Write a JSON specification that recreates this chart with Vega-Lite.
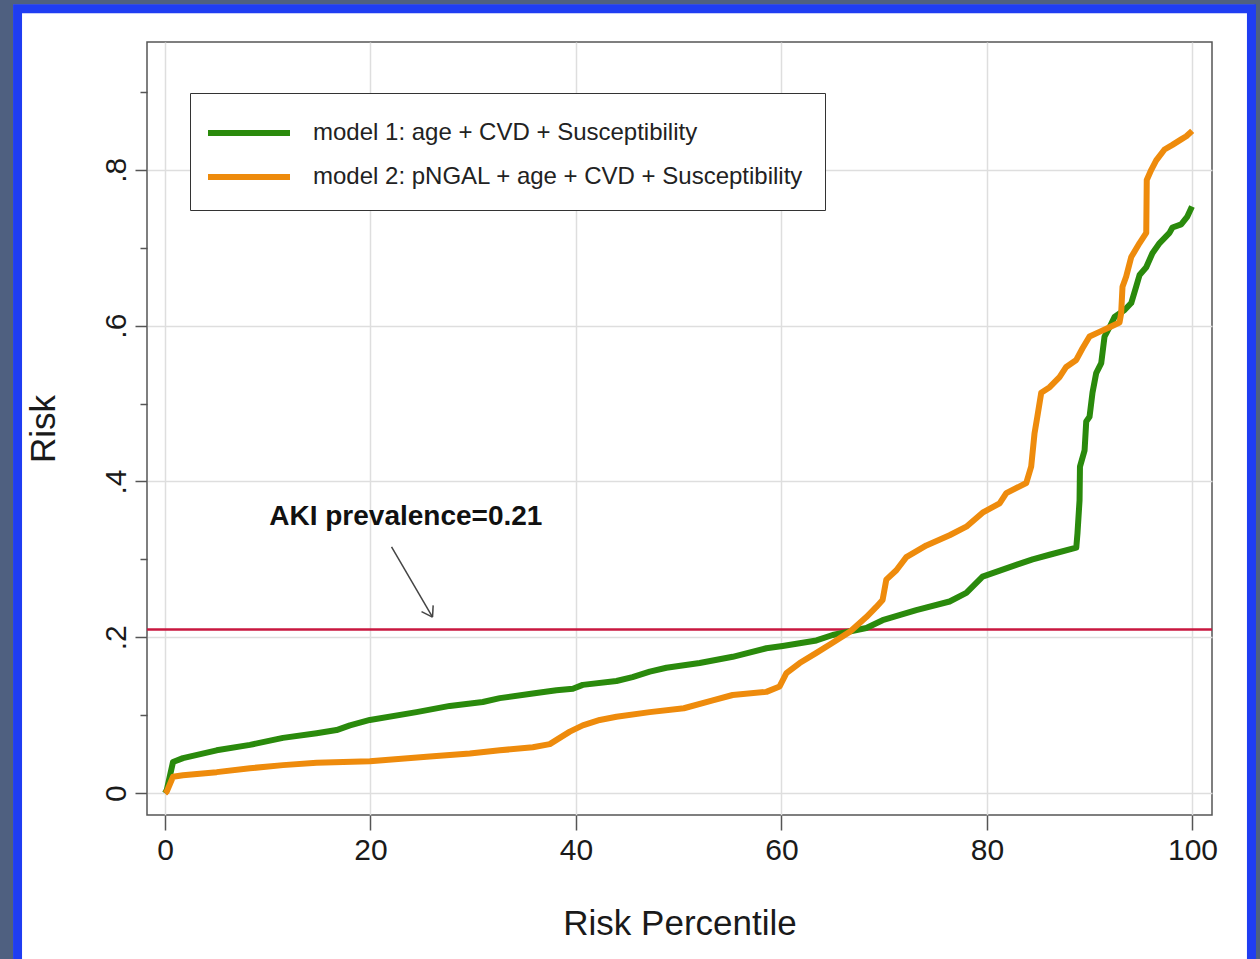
{
  "$schema": "https://vega.github.io/schema/vega-lite/v6.json",
  "width": 1065,
  "height": 773,
  "autosize": {"type": "none"},
  "padding": {"left": 147, "top": 42, "right": 48, "bottom": 144},
  "background": "white",
  "config": {
    "view": {"stroke": "#555555", "strokeWidth": 1.5},
    "font": "Liberation Sans"
  },
  "datasets": {
    "one": [{"note": "frame"}],
    "curves": [
      {"pct": 0, "risk": 0, "model": "model 1: age + CVD + Susceptibility"},
      {"pct": 0.17, "risk": 0.004, "model": "model 1: age + CVD + Susceptibility"},
      {"pct": 0.78, "risk": 0.040, "model": "model 1: age + CVD + Susceptibility"},
      {"pct": 1.75, "risk": 0.045, "model": "model 1: age + CVD + Susceptibility"},
      {"pct": 5.03, "risk": 0.055, "model": "model 1: age + CVD + Susceptibility"},
      {"pct": 8.27, "risk": 0.062, "model": "model 1: age + CVD + Susceptibility"},
      {"pct": 11.48, "risk": 0.071, "model": "model 1: age + CVD + Susceptibility"},
      {"pct": 14.76, "risk": 0.077, "model": "model 1: age + CVD + Susceptibility"},
      {"pct": 16.7, "risk": 0.081, "model": "model 1: age + CVD + Susceptibility"},
      {"pct": 18.0, "risk": 0.087, "model": "model 1: age + CVD + Susceptibility"},
      {"pct": 19.94, "risk": 0.094, "model": "model 1: age + CVD + Susceptibility"},
      {"pct": 24.48, "risk": 0.104, "model": "model 1: age + CVD + Susceptibility"},
      {"pct": 27.72, "risk": 0.112, "model": "model 1: age + CVD + Susceptibility"},
      {"pct": 30.93, "risk": 0.117, "model": "model 1: age + CVD + Susceptibility"},
      {"pct": 32.59, "risk": 0.122, "model": "model 1: age + CVD + Susceptibility"},
      {"pct": 35.8, "risk": 0.128, "model": "model 1: age + CVD + Susceptibility"},
      {"pct": 38.1, "risk": 0.132, "model": "model 1: age + CVD + Susceptibility"},
      {"pct": 39.7, "risk": 0.134, "model": "model 1: age + CVD + Susceptibility"},
      {"pct": 40.66, "risk": 0.139, "model": "model 1: age + CVD + Susceptibility"},
      {"pct": 43.94, "risk": 0.144, "model": "model 1: age + CVD + Susceptibility"},
      {"pct": 45.5, "risk": 0.149, "model": "model 1: age + CVD + Susceptibility"},
      {"pct": 47.18, "risk": 0.156, "model": "model 1: age + CVD + Susceptibility"},
      {"pct": 48.8, "risk": 0.161, "model": "model 1: age + CVD + Susceptibility"},
      {"pct": 52.04, "risk": 0.167, "model": "model 1: age + CVD + Susceptibility"},
      {"pct": 55.25, "risk": 0.175, "model": "model 1: age + CVD + Susceptibility"},
      {"pct": 58.53, "risk": 0.186, "model": "model 1: age + CVD + Susceptibility"},
      {"pct": 60.12, "risk": 0.189, "model": "model 1: age + CVD + Susceptibility"},
      {"pct": 63.4, "risk": 0.196, "model": "model 1: age + CVD + Susceptibility"},
      {"pct": 64.98, "risk": 0.203, "model": "model 1: age + CVD + Susceptibility"},
      {"pct": 68.26, "risk": 0.212, "model": "model 1: age + CVD + Susceptibility"},
      {"pct": 69.84, "risk": 0.222, "model": "model 1: age + CVD + Susceptibility"},
      {"pct": 73.12, "risk": 0.235, "model": "model 1: age + CVD + Susceptibility"},
      {"pct": 76.36, "risk": 0.246, "model": "model 1: age + CVD + Susceptibility"},
      {"pct": 77.99, "risk": 0.257, "model": "model 1: age + CVD + Susceptibility"},
      {"pct": 79.57, "risk": 0.278, "model": "model 1: age + CVD + Susceptibility"},
      {"pct": 82.85, "risk": 0.293, "model": "model 1: age + CVD + Susceptibility"},
      {"pct": 84.44, "risk": 0.300, "model": "model 1: age + CVD + Susceptibility"},
      {"pct": 86.09, "risk": 0.306, "model": "model 1: age + CVD + Susceptibility"},
      {"pct": 88.69, "risk": 0.315, "model": "model 1: age + CVD + Susceptibility"},
      {"pct": 88.81, "risk": 0.334, "model": "model 1: age + CVD + Susceptibility"},
      {"pct": 89.01, "risk": 0.376, "model": "model 1: age + CVD + Susceptibility"},
      {"pct": 89.05, "risk": 0.419, "model": "model 1: age + CVD + Susceptibility"},
      {"pct": 89.5, "risk": 0.440, "model": "model 1: age + CVD + Susceptibility"},
      {"pct": 89.66, "risk": 0.477, "model": "model 1: age + CVD + Susceptibility"},
      {"pct": 89.98, "risk": 0.483, "model": "model 1: age + CVD + Susceptibility"},
      {"pct": 90.27, "risk": 0.514, "model": "model 1: age + CVD + Susceptibility"},
      {"pct": 90.63, "risk": 0.539, "model": "model 1: age + CVD + Susceptibility"},
      {"pct": 91.12, "risk": 0.552, "model": "model 1: age + CVD + Susceptibility"},
      {"pct": 91.44, "risk": 0.586, "model": "model 1: age + CVD + Susceptibility"},
      {"pct": 91.93, "risk": 0.598, "model": "model 1: age + CVD + Susceptibility"},
      {"pct": 92.41, "risk": 0.611, "model": "model 1: age + CVD + Susceptibility"},
      {"pct": 93.39, "risk": 0.620, "model": "model 1: age + CVD + Susceptibility"},
      {"pct": 94.04, "risk": 0.629, "model": "model 1: age + CVD + Susceptibility"},
      {"pct": 94.52, "risk": 0.650, "model": "model 1: age + CVD + Susceptibility"},
      {"pct": 94.85, "risk": 0.665, "model": "model 1: age + CVD + Susceptibility"},
      {"pct": 95.5, "risk": 0.675, "model": "model 1: age + CVD + Susceptibility"},
      {"pct": 96.1, "risk": 0.693, "model": "model 1: age + CVD + Susceptibility"},
      {"pct": 96.8, "risk": 0.706, "model": "model 1: age + CVD + Susceptibility"},
      {"pct": 97.76, "risk": 0.719, "model": "model 1: age + CVD + Susceptibility"},
      {"pct": 98.05, "risk": 0.726, "model": "model 1: age + CVD + Susceptibility"},
      {"pct": 98.9, "risk": 0.730, "model": "model 1: age + CVD + Susceptibility"},
      {"pct": 99.5, "risk": 0.740, "model": "model 1: age + CVD + Susceptibility"},
      {"pct": 99.95, "risk": 0.753, "model": "model 1: age + CVD + Susceptibility"},
      {"pct": 0, "risk": 0, "model": "model 2: pNGAL + age + CVD + Susceptibility"},
      {"pct": 0.17, "risk": 0.002, "model": "model 2: pNGAL + age + CVD + Susceptibility"},
      {"pct": 0.78, "risk": 0.021, "model": "model 2: pNGAL + age + CVD + Susceptibility"},
      {"pct": 1.75, "risk": 0.023, "model": "model 2: pNGAL + age + CVD + Susceptibility"},
      {"pct": 5.03, "risk": 0.027, "model": "model 2: pNGAL + age + CVD + Susceptibility"},
      {"pct": 8.27, "risk": 0.032, "model": "model 2: pNGAL + age + CVD + Susceptibility"},
      {"pct": 11.48, "risk": 0.036, "model": "model 2: pNGAL + age + CVD + Susceptibility"},
      {"pct": 14.76, "risk": 0.039, "model": "model 2: pNGAL + age + CVD + Susceptibility"},
      {"pct": 19.94, "risk": 0.041, "model": "model 2: pNGAL + age + CVD + Susceptibility"},
      {"pct": 25.78, "risk": 0.047, "model": "model 2: pNGAL + age + CVD + Susceptibility"},
      {"pct": 29.67, "risk": 0.051, "model": "model 2: pNGAL + age + CVD + Susceptibility"},
      {"pct": 32.59, "risk": 0.055, "model": "model 2: pNGAL + age + CVD + Susceptibility"},
      {"pct": 35.8, "risk": 0.059, "model": "model 2: pNGAL + age + CVD + Susceptibility"},
      {"pct": 37.45, "risk": 0.063, "model": "model 2: pNGAL + age + CVD + Susceptibility"},
      {"pct": 38.42, "risk": 0.071, "model": "model 2: pNGAL + age + CVD + Susceptibility"},
      {"pct": 39.4, "risk": 0.079, "model": "model 2: pNGAL + age + CVD + Susceptibility"},
      {"pct": 40.66, "risk": 0.087, "model": "model 2: pNGAL + age + CVD + Susceptibility"},
      {"pct": 42.32, "risk": 0.094, "model": "model 2: pNGAL + age + CVD + Susceptibility"},
      {"pct": 43.94, "risk": 0.098, "model": "model 2: pNGAL + age + CVD + Susceptibility"},
      {"pct": 47.18, "risk": 0.104, "model": "model 2: pNGAL + age + CVD + Susceptibility"},
      {"pct": 50.5, "risk": 0.109, "model": "model 2: pNGAL + age + CVD + Susceptibility"},
      {"pct": 53.31, "risk": 0.119, "model": "model 2: pNGAL + age + CVD + Susceptibility"},
      {"pct": 55.25, "risk": 0.126, "model": "model 2: pNGAL + age + CVD + Susceptibility"},
      {"pct": 58.53, "risk": 0.130, "model": "model 2: pNGAL + age + CVD + Susceptibility"},
      {"pct": 59.82, "risk": 0.137, "model": "model 2: pNGAL + age + CVD + Susceptibility"},
      {"pct": 60.48, "risk": 0.154, "model": "model 2: pNGAL + age + CVD + Susceptibility"},
      {"pct": 61.77, "risk": 0.167, "model": "model 2: pNGAL + age + CVD + Susceptibility"},
      {"pct": 63.4, "risk": 0.180, "model": "model 2: pNGAL + age + CVD + Susceptibility"},
      {"pct": 64.98, "risk": 0.193, "model": "model 2: pNGAL + age + CVD + Susceptibility"},
      {"pct": 66.63, "risk": 0.207, "model": "model 2: pNGAL + age + CVD + Susceptibility"},
      {"pct": 68.26, "risk": 0.226, "model": "model 2: pNGAL + age + CVD + Susceptibility"},
      {"pct": 69.23, "risk": 0.239, "model": "model 2: pNGAL + age + CVD + Susceptibility"},
      {"pct": 69.84, "risk": 0.248, "model": "model 2: pNGAL + age + CVD + Susceptibility"},
      {"pct": 70.2, "risk": 0.274, "model": "model 2: pNGAL + age + CVD + Susceptibility"},
      {"pct": 71.18, "risk": 0.286, "model": "model 2: pNGAL + age + CVD + Susceptibility"},
      {"pct": 72.15, "risk": 0.303, "model": "model 2: pNGAL + age + CVD + Susceptibility"},
      {"pct": 74.1, "risk": 0.318, "model": "model 2: pNGAL + age + CVD + Susceptibility"},
      {"pct": 76.36, "risk": 0.331, "model": "model 2: pNGAL + age + CVD + Susceptibility"},
      {"pct": 77.99, "risk": 0.342, "model": "model 2: pNGAL + age + CVD + Susceptibility"},
      {"pct": 79.57, "risk": 0.360, "model": "model 2: pNGAL + age + CVD + Susceptibility"},
      {"pct": 81.23, "risk": 0.372, "model": "model 2: pNGAL + age + CVD + Susceptibility"},
      {"pct": 81.88, "risk": 0.385, "model": "model 2: pNGAL + age + CVD + Susceptibility"},
      {"pct": 83.82, "risk": 0.398, "model": "model 2: pNGAL + age + CVD + Susceptibility"},
      {"pct": 84.3, "risk": 0.419, "model": "model 2: pNGAL + age + CVD + Susceptibility"},
      {"pct": 84.63, "risk": 0.462, "model": "model 2: pNGAL + age + CVD + Susceptibility"},
      {"pct": 84.9, "risk": 0.483, "model": "model 2: pNGAL + age + CVD + Susceptibility"},
      {"pct": 85.28, "risk": 0.514, "model": "model 2: pNGAL + age + CVD + Susceptibility"},
      {"pct": 86.1, "risk": 0.521, "model": "model 2: pNGAL + age + CVD + Susceptibility"},
      {"pct": 87.06, "risk": 0.534, "model": "model 2: pNGAL + age + CVD + Susceptibility"},
      {"pct": 87.71, "risk": 0.547, "model": "model 2: pNGAL + age + CVD + Susceptibility"},
      {"pct": 88.69, "risk": 0.556, "model": "model 2: pNGAL + age + CVD + Susceptibility"},
      {"pct": 89.3, "risk": 0.571, "model": "model 2: pNGAL + age + CVD + Susceptibility"},
      {"pct": 89.98, "risk": 0.586, "model": "model 2: pNGAL + age + CVD + Susceptibility"},
      {"pct": 90.95, "risk": 0.592, "model": "model 2: pNGAL + age + CVD + Susceptibility"},
      {"pct": 91.93, "risk": 0.598, "model": "model 2: pNGAL + age + CVD + Susceptibility"},
      {"pct": 92.9, "risk": 0.604, "model": "model 2: pNGAL + age + CVD + Susceptibility"},
      {"pct": 93.06, "risk": 0.616, "model": "model 2: pNGAL + age + CVD + Susceptibility"},
      {"pct": 93.19, "risk": 0.650, "model": "model 2: pNGAL + age + CVD + Susceptibility"},
      {"pct": 93.55, "risk": 0.663, "model": "model 2: pNGAL + age + CVD + Susceptibility"},
      {"pct": 94.04, "risk": 0.688, "model": "model 2: pNGAL + age + CVD + Susceptibility"},
      {"pct": 94.85, "risk": 0.706, "model": "model 2: pNGAL + age + CVD + Susceptibility"},
      {"pct": 95.5, "risk": 0.719, "model": "model 2: pNGAL + age + CVD + Susceptibility"},
      {"pct": 95.55, "risk": 0.787, "model": "model 2: pNGAL + age + CVD + Susceptibility"},
      {"pct": 95.99, "risk": 0.800, "model": "model 2: pNGAL + age + CVD + Susceptibility"},
      {"pct": 96.47, "risk": 0.812, "model": "model 2: pNGAL + age + CVD + Susceptibility"},
      {"pct": 97.28, "risk": 0.826, "model": "model 2: pNGAL + age + CVD + Susceptibility"},
      {"pct": 98.05, "risk": 0.832, "model": "model 2: pNGAL + age + CVD + Susceptibility"},
      {"pct": 98.9, "risk": 0.839, "model": "model 2: pNGAL + age + CVD + Susceptibility"},
      {"pct": 99.4, "risk": 0.843, "model": "model 2: pNGAL + age + CVD + Susceptibility"},
      {"pct": 99.97, "risk": 0.850, "model": "model 2: pNGAL + age + CVD + Susceptibility"}
    ]
  },
  "layer": [
    {
      "data": {"name": "one"},
      "mark": {"type": "rect", "fill": "transparent", "stroke": "#4f6080", "strokeWidth": 14},
      "encoding": {
        "x": {"datum": -15.47, "type": "quantitative"},
        "x2": {"datum": 106.71},
        "y": {"datum": 1.0209, "type": "quantitative"},
        "y2": {"datum": -0.24}
      }
    },
    {
      "data": {"name": "one"},
      "mark": {"type": "rect", "fill": "transparent", "stroke": "#1f3df2", "strokeWidth": 9},
      "encoding": {
        "x": {"datum": -14.35, "type": "quantitative"},
        "x2": {"datum": 105.74},
        "y": {"datum": 1.0067, "type": "quantitative"},
        "y2": {"datum": -0.2337}
      }
    },
    {
      "data": {"name": "one"},
      "mark": {"type": "rule", "color": "#c8173f", "strokeWidth": 2.5},
      "encoding": {"y": {"datum": 0.21, "type": "quantitative"}}
    },
    {
      "data": {"name": "curves"},
      "mark": {"type": "line", "strokeWidth": 6, "strokeJoin": "round"},
      "encoding": {
        "x": {
          "field": "pct",
          "type": "quantitative",
          "scale": {"domain": [-1.75, 101.9], "nice": false, "zero": false},
          "axis": {
            "title": "Risk Percentile",
            "values": [0, 20, 40, 60, 80, 100],
            "domain": false,
            "tickSize": 15,
            "tickColor": "#555555",
            "tickWidth": 1.5,
            "grid": true,
            "gridColor": "#dedede",
            "gridWidth": 1.5,
            "labelFontSize": 30,
            "labelColor": "#1a1a1a",
            "labelPadding": 5,
            "labelFlush": false,
            "titleFontSize": 35,
            "titleFontWeight": "normal",
            "titleColor": "#1a1a1a",
            "titlePadding": 41
          }
        },
        "y": {
          "field": "risk",
          "type": "quantitative",
          "scale": {"domain": [-0.028, 0.964], "nice": false, "zero": false},
          "axis": {
            "title": "Risk",
            "values": [0, 0.1, 0.2, 0.3, 0.4, 0.5, 0.6, 0.7, 0.8, 0.9],
            "domain": false,
            "tickSize": {"condition": {"test": "round(datum.value*10) % 2 == 1", "value": 7}, "value": 12},
            "tickColor": "#555555",
            "tickWidth": 1.5,
            "grid": true,
            "gridColor": "#dedede",
            "gridWidth": 1.5,
            "gridOpacity": {"condition": {"test": "round(datum.value*10) % 2 == 1", "value": 0}, "value": 1},
            "labelExpr": "round(datum.value*10) % 2 == 1 ? '' : (datum.value == 0 ? '0' : replace(format(datum.value, '.1f'), '0.', '.'))",
            "labelAngle": -90,
            "labelAlign": "center",
            "labelBaseline": "bottom",
            "labelFontSize": 30,
            "labelColor": "#1a1a1a",
            "labelPadding": 4,
            "titleFontSize": 35,
            "titleFontWeight": "normal",
            "titleColor": "#1a1a1a",
            "titlePadding": 40
          }
        },
        "color": {
          "field": "model",
          "type": "nominal",
          "scale": {
            "domain": ["model 1: age + CVD + Susceptibility", "model 2: pNGAL + age + CVD + Susceptibility"],
            "range": ["#2a8a0c", "#ee8b0c"]
          },
          "legend": {
            "title": null,
            "orient": "none",
            "legendX": 43,
            "legendY": 51,
            "fillColor": "white",
            "strokeColor": "#333333",
            "padding": 21,
            "symbolType": "M-1.375,0H3.75",
            "symbolSize": 1024,
            "symbolStrokeWidth": 6,
            "labelFontSize": 24,
            "labelColor": "#222222",
            "labelOffset": 64,
            "rowPadding": 13,
            "labelLimit": 800
          }
        }
      }
    },
    {
      "data": {"name": "one"},
      "mark": {"type": "text", "text": "AKI prevalence=0.21", "font": "Liberation Sans", "fontSize": 28, "fontWeight": "bold", "color": "#111111", "baseline": "middle", "align": "center"},
      "encoding": {
        "x": {"datum": 23.44, "type": "quantitative"},
        "y": {"datum": 0.354, "type": "quantitative"}
      }
    },
    {
      "data": {"name": "one"},
      "mark": {"type": "rule", "color": "#444444", "strokeWidth": 1.5},
      "encoding": {
        "x": {"datum": 22.05, "type": "quantitative"},
        "y": {"datum": 0.316, "type": "quantitative"},
        "x2": {"datum": 26.04},
        "y2": {"datum": 0.226}
      }
    },
    {
      "data": {"name": "one"},
      "mark": {"type": "rule", "color": "#444444", "strokeWidth": 1.5},
      "encoding": {
        "x": {"datum": 24.97, "type": "quantitative"},
        "y": {"datum": 0.233, "type": "quantitative"},
        "x2": {"datum": 26.04},
        "y2": {"datum": 0.226}
      }
    },
    {
      "data": {"name": "one"},
      "mark": {"type": "rule", "color": "#444444", "strokeWidth": 1.5},
      "encoding": {
        "x": {"datum": 26.1, "type": "quantitative"},
        "y": {"datum": 0.241, "type": "quantitative"},
        "x2": {"datum": 26.04},
        "y2": {"datum": 0.226}
      }
    }
  ]
}
